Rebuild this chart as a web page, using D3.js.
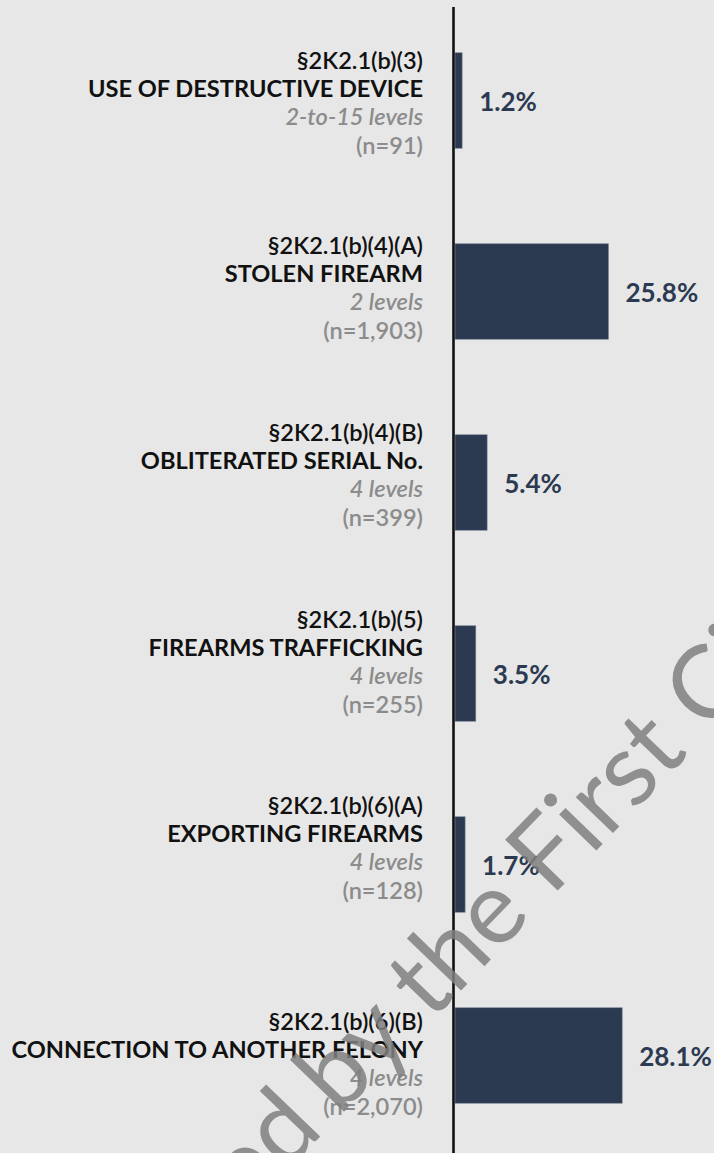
<!DOCTYPE html>
<meta charset="utf-8">
<title>§2K2.1 enhancements</title>
<style>
  html, body { margin: 0; padding: 0; background: #e7e7e7; }
  svg { display: block; }
  .sec  { font: 600 23.6px 'Lato', sans-serif; fill: #111; }
  .name { font: 700 23.6px 'Lato', sans-serif; fill: #111; }
  .lvl  { font: italic 600 23.6px 'Lato', sans-serif; fill: #8c8c8c; }
  .cnt  { font: 600 23.6px 'Lato', sans-serif; fill: #8c8c8c; }
  .val  { font: 700 26px 'Lato', sans-serif; fill: #2b3a50; }
  .bar  { fill: #2b3a50; stroke: #7d8898; stroke-width: 0.6; }
  .mark { font: 400 102px 'Lato', sans-serif; fill: #808080; opacity: .85; }
</style>
<svg width="714" height="1153"></svg>
<script src="https://cdn.jsdelivr.net/npm/d3@7"></script>
<script>

var sections = ["§2K2.1(b)(3)", "§2K2.1(b)(4)(A)", "§2K2.1(b)(4)(B)",
                "§2K2.1(b)(5)", "§2K2.1(b)(6)(A)", "§2K2.1(b)(6)(B)"];
var names = ["USE OF DESTRUCTIVE DEVICE", "STOLEN FIREARM", "OBLITERATED SERIAL No.",
             "FIREARMS TRAFFICKING", "EXPORTING FIREARMS", "CONNECTION TO ANOTHER FELONY"];
var levels = ["2-to-15 levels", "2 levels", "4 levels", "4 levels", "4 levels", "4 levels"];
var counts = ["(n=91)", "(n=1,903)", "(n=399)", "(n=255)", "(n=128)", "(n=2,070)"];
var values = [1.2, 25.8, 5.4, 3.5, 1.7, 28.1];

var svg = d3.select("svg"),
    width = +svg.attr("width"),
    height = +svg.attr("height");

var axisX = 453.5,
    labelX = 423;

var y = d3.scaleBand()
    .domain(sections)
    .range([5, 1151])
    .paddingInner(0.5)
    .paddingOuter(0.25);

var x = d3.scaleLinear()
    .domain([0, 30])
    .range([455, 633.5]);

// the label blocks in the original don't sit exactly centred on their bars
var nudge = [10, 4, 0, -4, -9, 16];

svg.selectAll(".bar")
    .data(values)
  .enter().append("rect")
    .attr("class", "bar")
    .attr("x", x(0))
    .attr("y", function(d, i) { return y(sections[i]); })
    .attr("width", function(d) { return x(d) - x(0); })
    .attr("height", y.bandwidth());

svg.selectAll(".val")
    .data(values)
  .enter().append("text")
    .attr("class", "val")
    .attr("x", function(d) { return x(d) + 17; })
    .attr("y", function(d, i) { return y(sections[i]) + y.bandwidth() / 2 + 10; })
    .text(function(d) { return d.toFixed(1) + "%"; });

var lab = svg.selectAll(".lab")
    .data(sections)
  .enter().append("text")
    .attr("class", "lab")
    .attr("text-anchor", "end")
    .attr("transform", function(d, i) {
        return "translate(" + labelX + "," + (y(d) + y.bandwidth() / 2 - 42 + nudge[i]) + ")";
    });

lab.append("tspan").attr("class", "sec").attr("x", 0).attr("y", 0)
    .text(function(d) { return d; });
lab.append("tspan").attr("class", "name").attr("x", 0).attr("y", 28)
    .text(function(d, i) { return names[i]; });
lab.append("tspan").attr("class", "lvl").attr("x", 0).attr("y", 56)
    .text(function(d, i) { return levels[i]; });
lab.append("tspan").attr("class", "cnt").attr("x", 0).attr("y", 85)
    .text(function(d, i) { return counts[i]; });

svg.append("line")
    .attr("x1", axisX).attr("x2", axisX)
    .attr("y1", 7).attr("y2", height)
    .attr("stroke", "#111")
    .attr("stroke-width", 2.6);

// watermark across the lower half
var wm = svg.append("g")
    .attr("transform", "translate(339,1117) rotate(-46)");
wm.append("text").attr("class", "mark").attr("text-anchor", "end").attr("x", -20)
    .text("Reproduced");
wm.append("text").attr("class", "mark").attr("x", 0)
    .text("by the First Circuit");

</script>
